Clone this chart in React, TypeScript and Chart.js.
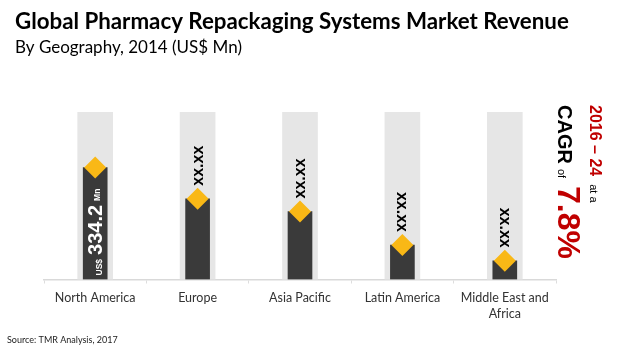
import React, { useEffect, useRef } from 'react';
import { Chart, registerables } from 'chart.js';

Chart.register(...registerables);

const titleText = 'Global Pharmacy Repackaging Systems Market Revenue';
const subtitleText = 'By Geography, 2014 (US$ Mn)';
const sourceText = 'Source: TMR Analysis, 2017';

const categories: string[][] = [
  ['North America'],
  ['Europe'],
  ['Asia Pacific'],
  ['Latin America'],
  ['Middle East and', 'Africa'],
];
const revenue = [334.2, 241, 203, 103, 56];
const trackValues = [500, 500, 500, 500, 500];
const valueLabels = ['334.2', 'xx.xx', 'xx.xx', 'xx.xx', 'xx.xx'];
const yMax = 500;

const cagrPeriod = '2016 \u2013 24';
const cagrValue = '7.8%';

const DARK = '#3a3a3a';
const TRACK = '#e6e6e6';
const GOLD = '#f9b816';
const RED = '#c00000';

const SANS = '"Liberation Sans", Arial, sans-serif';
const TITLE_FONT = 'Lato, "Noto Sans", sans-serif';

type Seg = { text: string; font: string; color: string; dy?: number; gap?: number };

function drawRun(ctx: CanvasRenderingContext2D, segs: Seg[], start: number) {
  let pos = start;
  for (const s of segs) {
    ctx.font = s.font;
    ctx.fillStyle = s.color;
    ctx.fillText(s.text, pos, s.dy || 0);
    pos += ctx.measureText(s.text).width + (s.gap || 0);
  }
}

const labelPlugin = {
  id: 'labelPlugin',
  afterDatasetsDraw(chart: any) {
    const ctx: CanvasRenderingContext2D = chart.ctx;
    const xs = chart.scales.x;
    const ys = chart.scales.y;
    const bottom = ys.getPixelForValue(0);
    ctx.save();
    ctx.textBaseline = 'alphabetic';
    revenue.forEach((v, i) => {
      const x = xs.getPixelForValue(i);
      const yTop = ys.getPixelForValue(v);
      if (i === 0) {
        ctx.save();
        ctx.translate(x + 7, bottom - 4);
        ctx.rotate(-Math.PI / 2);
        ctx.textAlign = 'left';
        drawRun(ctx, [
          { text: 'US$', font: `bold 8.5px ${SANS}`, color: '#ffffff', gap: 4 },
          { text: valueLabels[i], font: `bold 20px ${SANS}`, color: '#ffffff', gap: 4 },
          { text: 'Mn', font: `bold 8.5px ${SANS}`, color: '#ffffff', dy: -2 },
        ], 0);
        ctx.restore();
      } else if (i < 3) {
        ctx.save();
        ctx.translate(x + 5, yTop - 13);
        ctx.rotate(-Math.PI / 2);
        ctx.textAlign = 'left';
        ctx.font = `bold 16px ${SANS}`;
        ctx.fillStyle = '#000000';
        ctx.fillText(valueLabels[i], 0, 0);
        ctx.restore();
      } else {
        ctx.save();
        ctx.translate(x - 5, yTop - 13);
        ctx.rotate(Math.PI / 2);
        ctx.textAlign = 'right';
        ctx.font = `bold 16px ${SANS}`;
        ctx.fillStyle = '#000000';
        ctx.fillText(valueLabels[i], 0, 0);
        ctx.restore();
      }
    });
    ctx.restore();
  },
  afterDraw(chart: any) {
    const ctx: CanvasRenderingContext2D = chart.ctx;
    ctx.save();
    ctx.textBaseline = 'alphabetic';
    ctx.textAlign = 'left';
    ctx.fillStyle = '#000000';
    ctx.font = `bold 22.3px ${TITLE_FONT}`;
    ctx.fillText(titleText, 15, 29);
    ctx.font = `17px ${TITLE_FONT}`;
    ctx.fillText(subtitleText, 15, 53);
    ctx.font = `9px ${TITLE_FONT}`;
    ctx.fillStyle = '#222222';
    ctx.fillText(sourceText, 7, 343);

    // CAGR block, rotated clockwise
    ctx.save();
    ctx.translate(590, 105);
    ctx.rotate(Math.PI / 2);
    drawRun(ctx, [
      { text: cagrPeriod, font: `bold 16px ${SANS}`, color: RED, gap: 8 },
      { text: 'at a', font: `11px ${SANS}`, color: '#000000' },
    ], 0);
    ctx.restore();
    ctx.save();
    ctx.translate(558, 105);
    ctx.rotate(Math.PI / 2);
    drawRun(ctx, [
      { text: 'CAGR', font: `bold 20px ${SANS}`, color: '#000000', gap: 5 },
      { text: 'of', font: `11px ${SANS}`, color: '#000000', gap: 8 },
      { text: cagrValue, font: `bold 32px ${SANS}`, color: RED },
    ], 0);
    ctx.restore();
    ctx.restore();
  },
};

export default function App() {
  const canvasRef = useRef<HTMLCanvasElement | null>(null);

  useEffect(() => {
    const canvas = canvasRef.current;
    if (!canvas) return;
    const chart = new Chart(canvas, {
      type: 'bar',
      data: {
        labels: categories,
        datasets: [
          {
            type: 'line',
            label: 'marker',
            data: revenue,
            showLine: false,
            pointStyle: 'rectRot',
            pointRadius: 11,
            pointHoverRadius: 11,
            pointBackgroundColor: GOLD,
            pointBorderWidth: 0,
            borderWidth: 0,
            order: 1,
          } as any,
          {
            label: 'Revenue',
            data: revenue,
            backgroundColor: DARK,
            barThickness: 24,
            grouped: false,
            order: 2,
          },
          {
            label: 'Track',
            data: trackValues,
            backgroundColor: TRACK,
            barThickness: 35,
            grouped: false,
            order: 3,
          },
        ],
      },
      options: {
        animation: false,
        responsive: false,
        maintainAspectRatio: false,
        events: [],
        layout: { padding: { left: 44, right: 64, top: 112, bottom: 26 } },
        plugins: {
          legend: { display: false },
          tooltip: { enabled: false },
          title: { display: false },
        },
        scales: {
          x: {
            offset: true,
            grid: {
              display: true,
              offset: true,
              drawOnChartArea: false,
              drawTicks: true,
              tickLength: 4,
              color: '#dddddd',
            },
            border: { display: true, color: '#d9d9d9', width: 1.5 },
            ticks: {
              color: '#333333',
              padding: 6,
              font: { family: TITLE_FONT, size: 12.5, lineHeight: 1.3 },
              maxRotation: 0,
              autoSkip: false,
            },
          },
          y: {
            display: false,
            min: 0,
            max: yMax,
          },
        },
      },
      plugins: [labelPlugin],
    });
    return () => chart.destroy();
  }, []);

  return (
    <div style={{ position: 'absolute', left: 0, top: 0, width: 620, height: 354, background: '#ffffff' }}>
      <canvas ref={canvasRef} width={620} height={354} style={{ width: 620, height: 354, display: 'block' }} />
    </div>
  );
}
